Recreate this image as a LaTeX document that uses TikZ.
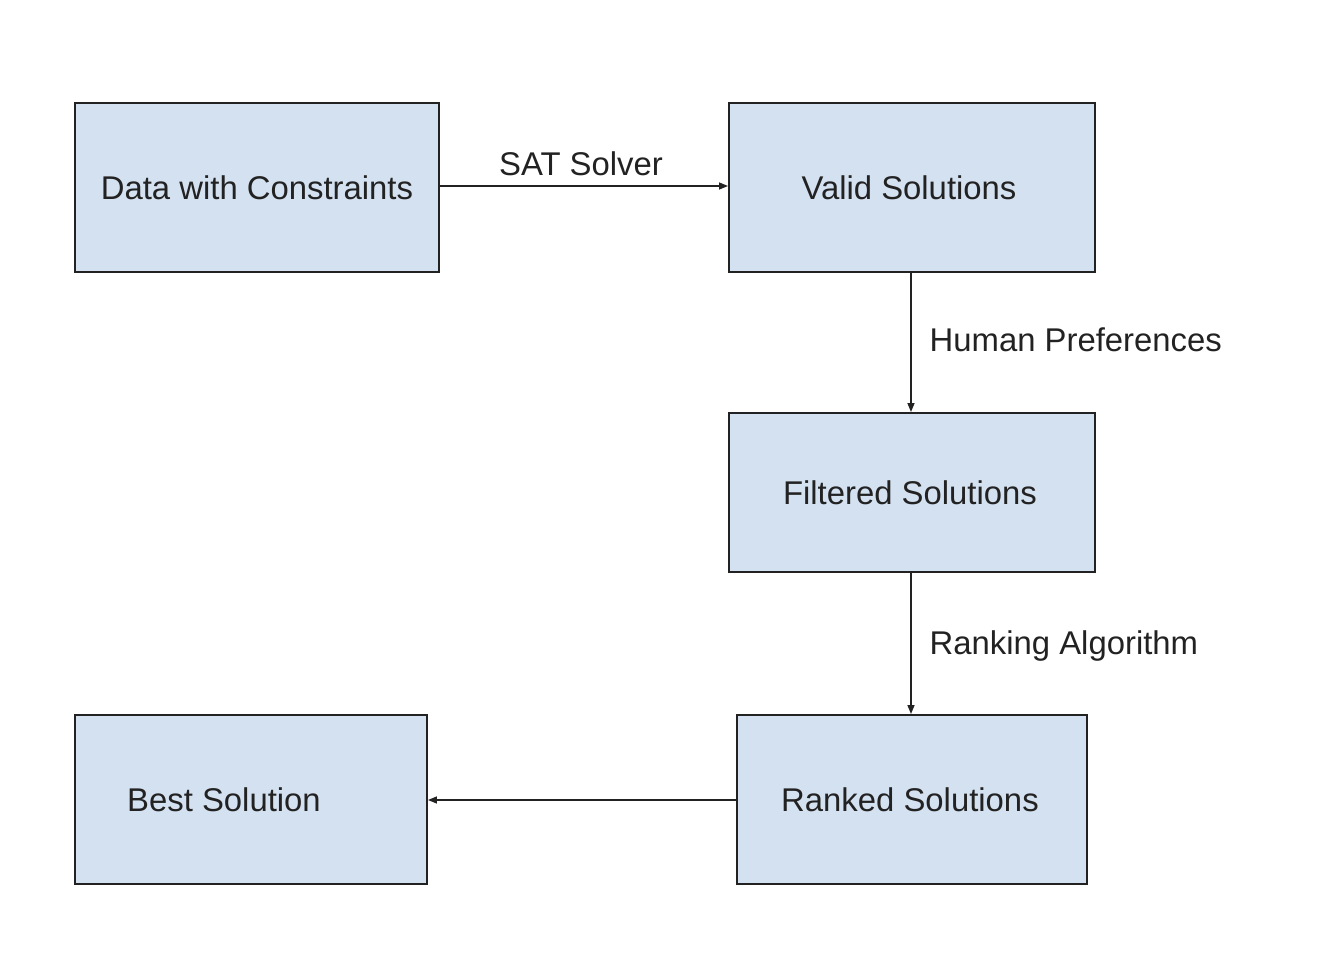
\documentclass[tikz,border=0pt]{standalone}
\usepackage{fontspec}
\setmainfont{Liberation Sans}
\usetikzlibrary{arrows.meta}
\definecolor{boxfill}{HTML}{D4E1F1}
\definecolor{linecol}{HTML}{222222}
\begin{document}
\begin{tikzpicture}[x=0.02cm,y=-0.02cm,
  box/.style={draw=linecol,fill=boxfill,line width=1.1pt,rectangle,inner sep=0pt,
    font=\fontsize{18.7pt}{22pt}\selectfont,text=linecol},
  conn/.style={draw=linecol,line width=0.8pt,-{Triangle[length=0.18cm,width=0.14cm]}},
  lbl/.style={font=\fontsize{18.7pt}{22pt}\selectfont,text=linecol,inner sep=0pt}]
\useasboundingbox (0,0) rectangle (1320,980);
\node[box,minimum width=364*0.02cm,minimum height=169*0.02cm] (data) at (257,187.5) {Data with Constraints};
\node[box,minimum width=366*0.02cm,minimum height=169*0.02cm] (valid) at (912,187.5) {Valid Solutions\hspace*{0.12cm}};
\node[box,minimum width=366*0.02cm,minimum height=159*0.02cm] (filt) at (912,492.5) {Filtered Solutions\hspace*{0.08cm}};
\node[box,minimum width=350*0.02cm,minimum height=169*0.02cm] (rank) at (912,799.5) {Ranked Solutions\hspace*{0.08cm}};
\node[box,minimum width=352*0.02cm,minimum height=169*0.02cm] (best) at (251,799.5) {Best Solution\hspace*{1.08cm}};
\draw[conn] (data.east |- 0,186) -- node[lbl,above=9*0.02cm,xshift=-0.06cm] {SAT Solver} (valid.west |- 0,186);
\draw[conn] (valid.south -| 911,0) -- node[lbl,right=18*0.02cm,yshift=0.06cm] {Human Preferences} (filt.north -| 911,0);
\draw[conn] (filt.south -| 911,0) -- node[lbl,right=18*0.02cm,yshift=-0.05cm] {Ranking Algorithm} (rank.north -| 911,0);
\draw[conn] (rank.west |- 0,800) -- (best.east |- 0,800);
\end{tikzpicture}
\end{document}
